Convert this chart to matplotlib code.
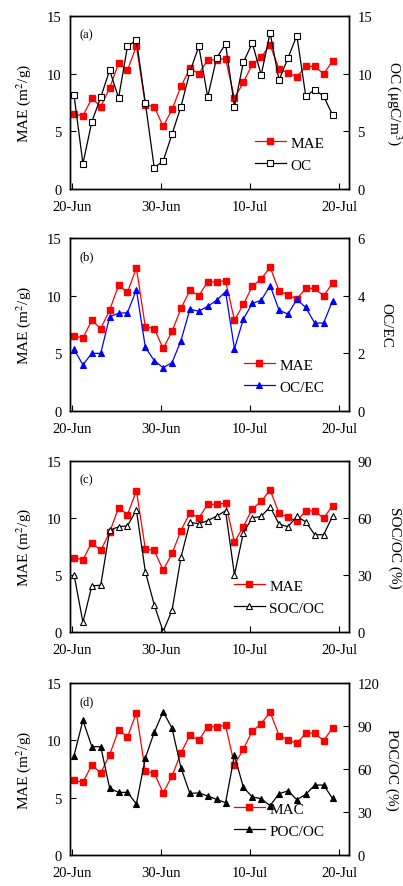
import numpy as np
import matplotlib
matplotlib.use("Agg")
import matplotlib.pyplot as plt

plt.rcParams['font.family'] = ['Liberation Serif', 'DejaVu Serif']
plt.rcParams['mathtext.fontset'] = 'stix'

# days since 20-Jun (one sample per day, 20-Jun .. 19-Jul)
day = np.arange(30) + 0.25
tick_days = [0, 10, 20, 30]
tick_labels = ["20-Jun", "30-Jun", "10-Jul", "20-Jul"]

mae = [6.5, 6.35, 7.85, 7.15, 8.75, 10.9, 10.3, 12.4, 7.3, 7.15,
       5.42, 6.9, 8.9, 10.45, 10.0, 11.2, 11.2, 11.3, 7.87, 9.25,
       10.8, 11.45, 12.47, 10.42, 10.05, 9.73, 10.63, 10.63, 9.98, 11.07]
oc = [8.15, 2.2, 5.83, 7.96, 10.3, 7.9, 12.37, 12.9, 7.47, 1.85,
      2.42, 4.76, 7.15, 10.15, 12.37, 7.99, 11.36, 12.58, 7.15, 10.99,
      12.66, 9.89, 13.55, 9.43, 11.36, 13.3, 8.05, 8.6, 8.05, 6.43]
oc_ec = [2.14, 1.6, 2.0, 2.0, 3.27, 3.39, 3.41, 4.21, 2.21, 1.75,
         1.5, 1.68, 2.44, 3.53, 3.46, 3.63, 3.84, 4.14, 2.16, 3.19,
         3.73, 3.84, 4.35, 3.5, 3.36, 3.87, 3.59, 3.05, 3.05, 3.82]
soc_oc = [30.2, 5.1, 24.3, 24.6, 53.5, 55.4, 55.9, 64.2, 31.8, 14.3,
          0.3, 11.4, 39.3, 57.7, 57.0, 58.6, 61.0, 63.8, 30.1, 52.3,
          60.1, 60.8, 65.9, 56.8, 55.4, 60.8, 58.0, 51.2, 51.2, 60.8]
poc_oc = [69.3, 94.0, 75.6, 75.6, 46.5, 43.7, 43.7, 35.6, 67.7, 85.6,
          100.0, 88.4, 60.7, 43.0, 43.3, 41.2, 38.8, 36.5, 69.5, 47.2,
          40.5, 39.3, 34.4, 42.8, 44.7, 38.6, 42.3, 48.8, 48.8, 39.5]

W, H = 403, 887
fig = plt.figure(figsize=(W / 100, H / 100), dpi=100)

panels = [
    # top px, bottom px, letter, series, right label, right max, right ticks, mae name, style, name, pad
    (17, 190, "(a)", oc, r"OC ($\mathrm{\mu}$gC/m$^3$)", 15, [0, 5, 10, 15], "MAE",
     dict(color="black", marker="s", mfc="white", mec="black"), "OC", 23),
    (239, 412, "(b)", oc_ec, "OC/EC", 6, [0, 2, 4, 6], "MAE",
     dict(color="blue", marker="^", mfc="blue", mec="blue"), "OC/EC", 20),
    (462, 633, "(c)", soc_oc, "SOC/OC (%)", 90, [0, 30, 60, 90], "MAE",
     dict(color="black", marker="^", mfc="white", mec="black"), "SOC/OC", 21),
    (684, 856, "(d)", poc_oc, "POC/OC (%)", 120, [0, 30, 60, 90, 120], "MAC",
     dict(color="black", marker="^", mfc="black", mec="black"), "POC/OC", 14),
]

fs = 10.5
for top, bot, letter, series, rlabel, rmax, rticks, mname, style, sname, rpad in panels:
    ax = fig.add_axes([70 / W, 1 - bot / H, 279 / W, (bot - top) / H])
    ax2 = ax.twinx()
    l1, = ax.plot(day, mae, color="#ff0000", lw=0.9, marker="s", ms=4.4,
                  mfc="#ff0000", mec="#ff0000", label=mname)
    l2, = ax2.plot(day, series, lw=0.9, ms=4.4, mew=0.8, label=sname, **style)
    ax.set_xlim(-0.2, 31.1)
    ax.set_ylim(0, 15)
    ax.set_yticks([0, 5, 10, 15])
    ax2.set_ylim(0, rmax)
    ax2.set_yticks(rticks)
    ax.set_xticks(tick_days)
    ax.set_xticklabels(tick_labels)
    for a in (ax, ax2):
        a.tick_params(direction="in", labelsize=fs, length=4, width=0.8, pad=6)
        for s in a.spines.values():
            s.set_linewidth(1.0)
    ax.tick_params(axis="x", pad=8)
    ax.set_ylabel(r"MAE (m$^2$/g)", fontsize=fs + 0.5, labelpad=10)
    ax2.set_ylabel(rlabel, fontsize=fs + 0.5, rotation=270, labelpad=rpad)
    ax.text(0.035, 0.93, letter, transform=ax.transAxes, fontsize=9,
            va="top", ha="left")
    ax2.legend([l1, l2], [mname, sname], loc="lower right",
               bbox_to_anchor=(0.96, 0.02), frameon=False, fontsize=fs + 0.5,
               handlelength=2.0, handletextpad=0.3, labelspacing=0.55)

fig.savefig("out.png", dpi=100)
